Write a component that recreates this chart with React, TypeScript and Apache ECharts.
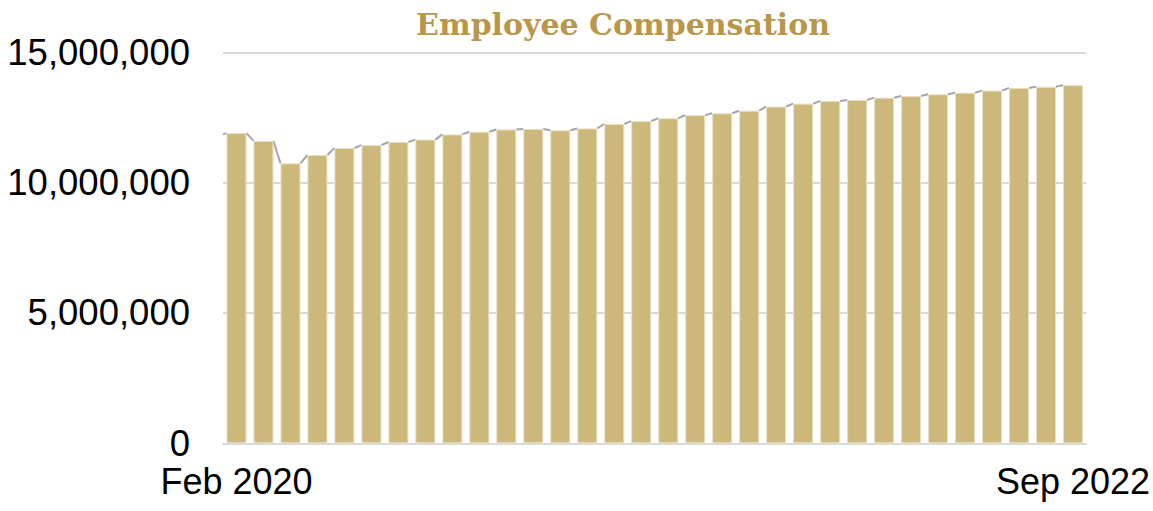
import React, { useEffect, useRef } from "react";
import * as echarts from "echarts";

const months: string[] = [
  "Feb 2020", "Mar 2020", "Apr 2020", "May 2020", "Jun 2020", "Jul 2020", "Aug 2020", "Sep 2020",
  "Oct 2020", "Nov 2020", "Dec 2020", "Jan 2021", "Feb 2021", "Mar 2021", "Apr 2021", "May 2021",
  "Jun 2021", "Jul 2021", "Aug 2021", "Sep 2021", "Oct 2021", "Nov 2021", "Dec 2021", "Jan 2022",
  "Feb 2022", "Mar 2022", "Apr 2022", "May 2022", "Jun 2022", "Jul 2022", "Aug 2022", "Sep 2022",
];

const compensation: number[] = [
  11900000, 11600000, 10740000, 11060000, 11330000, 11440000, 11560000, 11650000,
  11850000, 11950000, 12040000, 12060000, 12010000, 12080000, 12250000, 12360000,
  12470000, 12590000, 12660000, 12760000, 12920000, 13030000, 13130000, 13170000,
  13260000, 13320000, 13390000, 13450000, 13530000, 13630000, 13680000, 13740000,
];

// value of the month before the first bar (start of the connecting line)
const previousValue = 11850000;

const yTicks: number[] = [0, 5000000, 10000000, 15000000];

export default function App() {
  const ref = useRef<HTMLDivElement>(null);

  useEffect(() => {
    if (!ref.current) return;
    const chart = echarts.init(ref.current, undefined, { renderer: "svg" });
    const hw = 0.37;
    const n = months.length;
    const segments: { coords: number[][] }[] = [
      { coords: [[-0.5, previousValue], [-hw, compensation[0]]] },
    ];
    for (let i = 0; i < n - 1; i++) {
      segments.push({ coords: [[i + hw, compensation[i]], [i + 1 - hw, compensation[i + 1]]] });
    }
    chart.setOption({
      animation: false,
      title: {
        text: "Employee Compensation",
        left: 618,
        textAlign: "center",
        top: 4,
        textStyle: {
          fontFamily: "DejaVu Serif",
          fontWeight: 900,
          fontSize: 30,
          color: "#b8964a",
        },
      },
      grid: { left: 223, right: 64, top: 52.3, bottom: 67.7, containLabel: false },
      xAxis: [
        {
          type: "category",
          data: months,
          axisTick: { show: false },
          axisLine: { lineStyle: { color: "#d9d9d9", width: 2 } },
          axisLabel: {
            interval: (idx: number) => idx === 0 || idx === n - 1,
            fontFamily: "Liberation Sans, Arial",
            fontSize: 36,
            lineHeight: 34,
            color: "#000",
            margin: 21,
          },
        },
        {
          type: "value",
          min: -0.5,
          max: n - 0.5,
          show: false,
        },
      ],
      yAxis: {
        type: "value",
        min: yTicks[0],
        max: yTicks[yTicks.length - 1],
        interval: yTicks[1] - yTicks[0],
        axisLabel: {
          fontFamily: "Liberation Sans, Arial",
          fontSize: 36.5,
          lineHeight: 30,
          color: "#000",
          margin: 33,
          formatter: (v: number) => v.toLocaleString("en-US"),
        },
        splitLine: { lineStyle: { color: "#d9d9d9", width: 2 } },
        axisLine: { show: false },
        axisTick: { show: false },
      },
      series: [
        {
          type: "lines",
          coordinateSystem: "cartesian2d",
          xAxisIndex: 1,
          yAxisIndex: 0,
          data: segments,
          z: 1,
          lineStyle: { color: "#a5a5a5", width: 2, opacity: 1, curveness: 0 },
        },
        {
          type: "bar",
          xAxisIndex: 0,
          data: compensation,
          barWidth: 20,
          z: 3,
          itemStyle: { color: "#cdb87b", borderColor: "#e8dfc2", borderWidth: 1 },
        },
      ],
    });
    return () => chart.dispose();
  }, []);

  return (
    <div
      ref={ref}
      style={{ position: "fixed", left: 0, top: 0, width: 1153, height: 511, background: "#fff" }}
    />
  );
}
